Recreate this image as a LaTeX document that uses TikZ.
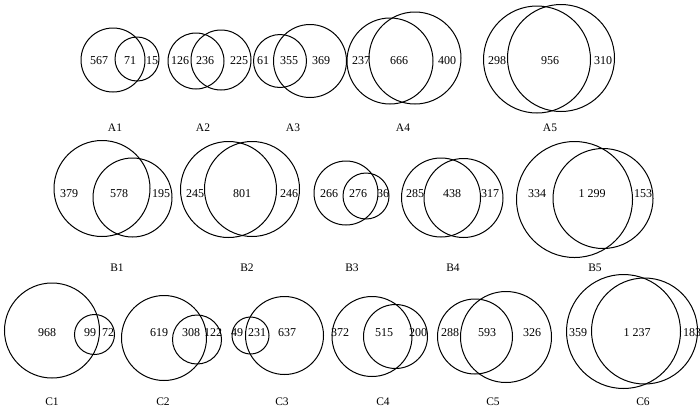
\documentclass[tikz,border=0pt]{standalone}
\usepackage{fontspec}
\setmainfont{Liberation Serif}
\begin{document}
\begin{tikzpicture}[x=1pt,y=-1pt,
  ring/.style={draw=black,line width=1pt},
  num/.style={font=\fontsize{12}{12}\selectfont,inner sep=0pt},
  setlabel/.style={font=\fontsize{11.5}{12}\selectfont,inner sep=0pt}]
\useasboundingbox (0,0) rectangle (700,413);
% ---- Row A ----
\draw[ring] (113,60) circle (32); \draw[ring] (137,59) circle (22);
\node[num] (a1l) at (99,61) {567}; \node[num] (a1m) at (130,61) {71}; \node[num] (a1r) at (152,61) {15};
\node[setlabel] (a1) at (115,128) {A1};
\draw[ring] (196,61) circle (28); \draw[ring] (221,60) circle (30);
\node[num] (a2l) at (180,61) {126}; \node[num] (a2m) at (205,61) {236}; \node[num] (a2r) at (239,61) {225};
\node[setlabel] (a2) at (203,128) {A2};
\draw[ring] (280,61) circle (26.5); \draw[ring] (310,61) circle (36.5);
\node[num] (a3l) at (263,61) {61}; \node[num] (a3m) at (289,61) {355}; \node[num] (a3r) at (321,61) {369};
\node[setlabel] (a3) at (293,128) {A3};
\draw[ring] (390,61) circle (43); \draw[ring] (415,58) circle (46);
\node[num] (a4l) at (361,61) {237}; \node[num] (a4m) at (399,61) {666}; \node[num] (a4r) at (447,61) {400};
\node[setlabel] (a4) at (403,128) {A4};
\draw[ring] (537,59.5) circle (53.5); \draw[ring] (561,58) circle (53.5);
\node[num] (a5l) at (497,61) {298}; \node[num] (a5m) at (550,61) {956}; \node[num] (a5r) at (603,61) {310};
\node[setlabel] (a5) at (550,128) {A5};
% ---- Row B ----
\draw[ring] (102,188.5) circle (48); \draw[ring] (132.5,197.5) circle (39.5);
\node[num] (b1l) at (69,194) {379}; \node[num] (b1m) at (119,194) {578}; \node[num] (b1r) at (161,194) {195};
\node[setlabel] (b1) at (117,268) {B1};
\draw[ring] (228.5,189.5) circle (48); \draw[ring] (252,189) circle (47.5);
\node[num] (b2l) at (195,194) {245}; \node[num] (b2m) at (242,194) {801}; \node[num] (b2r) at (289,194) {246};
\node[setlabel] (b2) at (247,268) {B2};
\draw[ring] (346,193) circle (32); \draw[ring] (366,196) circle (23);
\node[num] (b3l) at (329,194) {266}; \node[num] (b3m) at (358,194) {276}; \node[num] (b3r) at (383,194) {36};
\node[setlabel] (b3) at (352,268) {B3};
\draw[ring] (441,197.5) circle (39.5); \draw[ring] (463.5,198) circle (39.5);
\node[num] (b4l) at (415,194) {285}; \node[num] (b4m) at (452,194) {438}; \node[num] (b4r) at (490,194) {317};
\node[setlabel] (b4) at (453,268) {B4};
\draw[ring] (574.5,199.5) circle (58); \draw[ring] (603,198.5) circle (50);
\node[num] (b5l) at (537,194) {334}; \node[num] (b5m) at (592,194) {1 299}; \node[num] (b5r) at (643,194) {153};
\node[setlabel] (b5) at (595,268) {B5};
% ---- Row C ----
\draw[ring] (52,330.5) circle (47.5); \draw[ring] (94.5,334.5) circle (20);
\node[num] (c1l) at (47,333) {968}; \node[num] (c1m) at (90,333) {99}; \node[num] (c1r) at (108,333) {72};
\node[setlabel] (c1) at (52,402) {C1};
\draw[ring] (164,338) circle (42.5); \draw[ring] (197,339.5) circle (24.5);
\node[num] (c2l) at (159,333) {619}; \node[num] (c2m) at (191,333) {308}; \node[num] (c2r) at (213,333) {122};
\node[setlabel] (c2) at (163,402) {C2};
\draw[ring] (250.5,335.5) circle (18.5); \draw[ring] (284.5,335.5) circle (39);
\node[num] (c3l) at (237,333) {49}; \node[num] (c3m) at (257,333) {231}; \node[num] (c3r) at (287,333) {637};
\node[setlabel] (c3) at (282,402) {C3};
\draw[ring] (372,336.5) circle (40); \draw[ring] (395.5,336.5) circle (32);
\node[num] (c4l) at (340,333) {372}; \node[num] (c4m) at (384,333) {515}; \node[num] (c4r) at (418,333) {200};
\node[setlabel] (c4) at (383,402) {C4};
\draw[ring] (475,336.5) circle (37.5); \draw[ring] (506,337) circle (45.5);
\node[num] (c5l) at (450,333) {288}; \node[num] (c5m) at (487,333) {593}; \node[num] (c5r) at (532,333) {326};
\node[setlabel] (c5) at (493,402) {C5};
\draw[ring] (623.5,331.5) circle (57); \draw[ring] (644.5,331) circle (53);
\node[num] (c6l) at (578,333) {359}; \node[num] (c6m) at (637,333) {1 237}; \node[num] (c6r) at (692,333) {183};
\node[setlabel] (c6) at (643,402) {C6};
\end{tikzpicture}
\end{document}
